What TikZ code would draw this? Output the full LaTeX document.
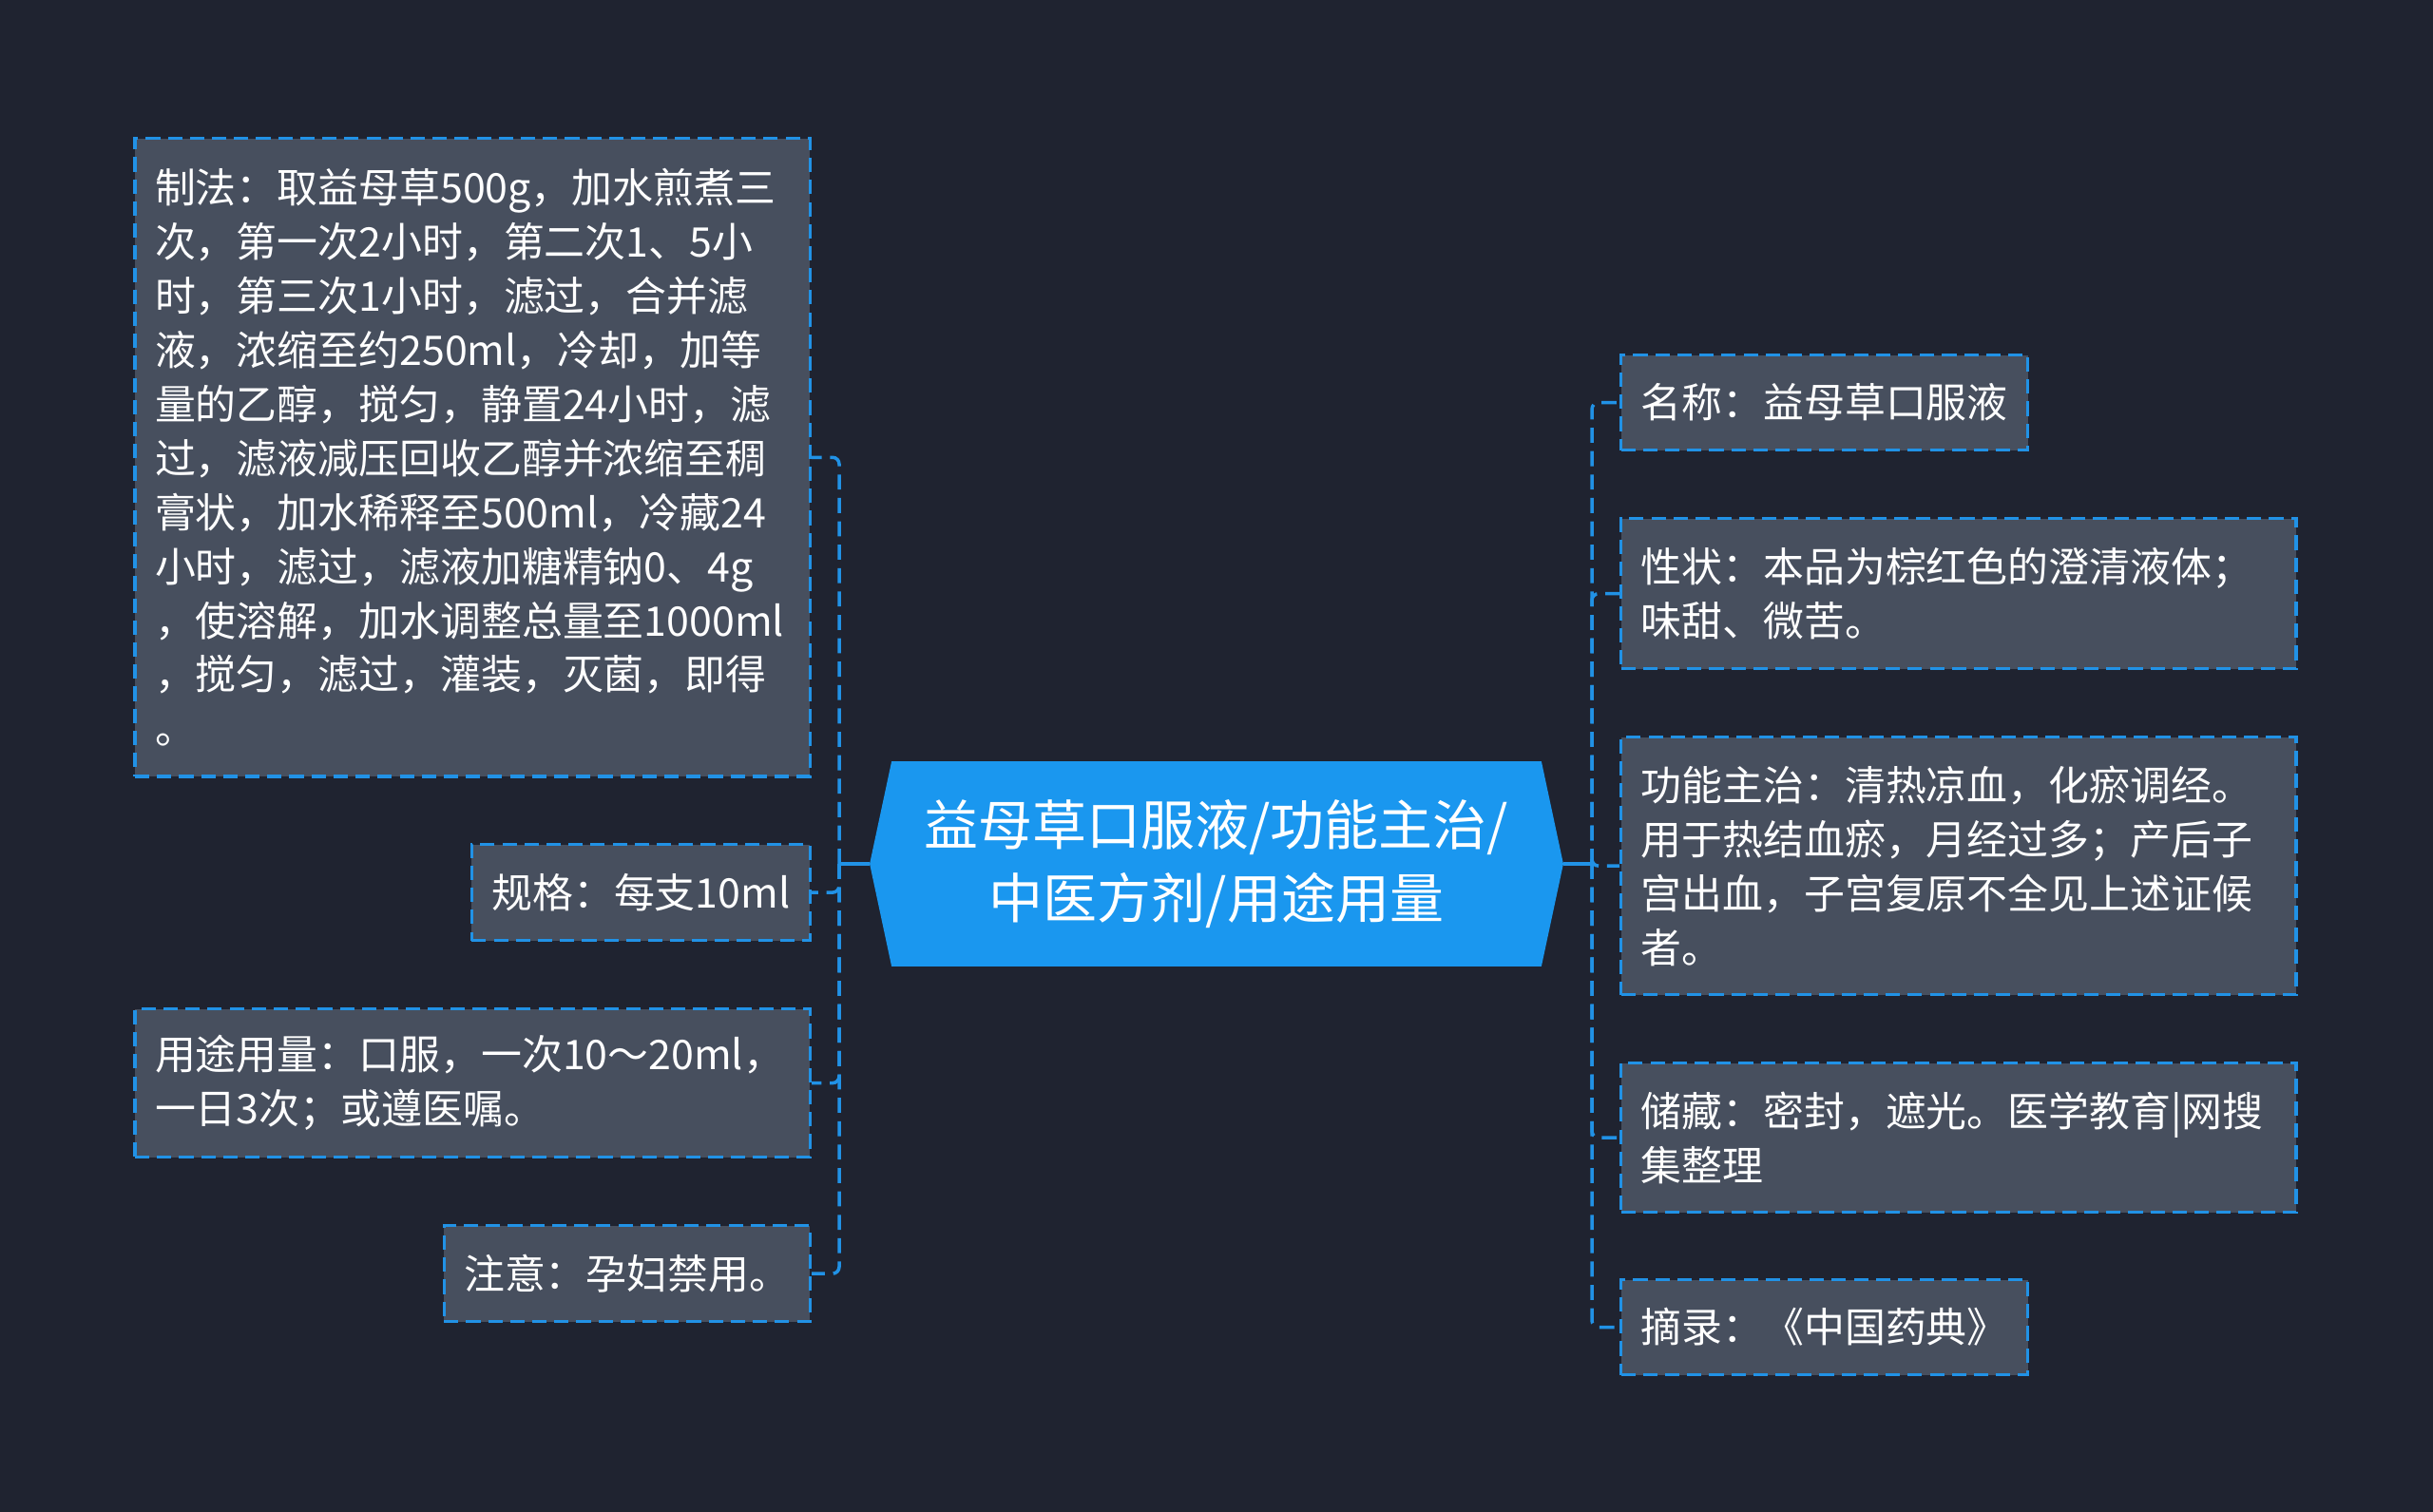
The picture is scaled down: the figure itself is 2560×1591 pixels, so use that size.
\documentclass[tikz,border=0pt]{standalone}
\usepackage{fontspec}
\newfontfamily\cjk{Noto Sans CJK SC}
\usetikzlibrary{backgrounds}
\definecolor{bgdark}{HTML}{1F2330}
\definecolor{boxgrey}{HTML}{474F5E}
\definecolor{linkblue}{HTML}{2192E6}
\definecolor{hubblue}{HTML}{1A97EF}
\tikzset{
  leaf/.style={draw=linkblue, dash pattern=on 4.3pt off 2.3pt, line width=0.9pt,
    fill=boxgrey, text=white, align=left, inner xsep=0.21cm, inner ysep=0.1cm,
    font=\cjk\fontsize{12.2pt}{16.2pt}\selectfont},
  link/.style={draw=linkblue, line width=1pt, dash pattern=on 4.5pt off 2.5pt, rounded corners=2pt},
  stem/.style={draw=linkblue, line width=1pt},
  hub/.style={text=white, align=center, minimum width=6.82cm, minimum height=2.14cm,
    font=\cjk\fontsize{16.2pt}{21.9pt}\selectfont},
}
\begin{document}
\begin{tikzpicture}[x=0.01cm, y=-0.01cm]
\useasboundingbox (0,0) rectangle (2560,1591);

\node[hub] (hub) at (1280,909) {益母草口服液/功能主治/\\中医方剂/用途用量};

\begin{pgfonlayer}{background}
\fill[bgdark] (0,0) rectangle (2560,1591);
\fill[hubblue] (hub.north west) -- (hub.north east) -- ([xshift=0.23cm]hub.east)
  -- (hub.south east) -- (hub.south west) -- ([xshift=-0.23cm]hub.west) -- cycle;
\end{pgfonlayer}

% left side
\node[leaf, anchor=north east, text width=6.68cm, minimum height=6.71cm] (zhifa) at (854,144)
  {制法：取益母草500g，加水煎煮三\\次，第一次2小时，第二次1、5小\\时，第三次1小时，滤过，合并滤\\液，浓缩至约250ml，冷却，加等\\量的乙醇，搅匀，静置24小时，滤\\过，滤液减压回收乙醇并浓缩至稠\\膏状，加水稀释至500ml，冷藏24\\小时，滤过，滤液加糖精钠0、4g\\，使溶解，加水调整总量至1000ml\\，搅匀，滤过，灌装，灭菌，即得\\。};
\node[leaf, anchor=north east, minimum height=1.01cm] (guige) at (854,887) {规格：每支10ml};
\node[leaf, anchor=north east, text width=6.68cm, minimum height=1.56cm] (yongfa) at (854,1060)
  {用途用量：口服，一次10～20ml，\\一日3次；或遵医嘱。};
\node[leaf, anchor=north east, minimum height=1.01cm] (zhuyi) at (854,1288) {注意：孕妇禁用。};

% right side
\node[leaf, anchor=north west, minimum height=1.00cm] (mingcheng) at (1704,372) {名称：益母草口服液};
\node[leaf, anchor=north west, text width=6.68cm, minimum height=1.58cm] (xingzhuang) at (1704,544)
  {性状：本品为棕红色的澄清液体；\\味甜、微苦。};
\node[leaf, anchor=north west, text width=6.68cm, minimum height=2.71cm] (gongneng) at (1704,774)
  {功能主治：清热凉血，化瘀调经。\\用于热结血瘀，月经过多；产后子\\宫出血，子宫复原不全见上述证候\\者。};
\node[leaf, anchor=north west, text width=6.68cm, minimum height=1.57cm] (chucang) at (1704,1117)
  {储藏：密封，遮光。医学教育|网搜\\集整理};
\node[leaf, anchor=north west, minimum height=1.00cm] (zhailu) at (1704,1345) {摘录：《中国药典》};

\coordinate (ltrunk) at (883,909);
\coordinate (rtrunk) at (1675,909);
\draw[stem] ([xshift=-0.23cm]hub.west) -- (ltrunk);
\draw[stem] ([xshift=0.23cm]hub.east) -- (rtrunk);
\foreach \n in {zhifa,guige,yongfa,zhuyi}
  \draw[link] (ltrunk) |- (\n.east);
\foreach \n in {mingcheng,xingzhuang,gongneng,chucang,zhailu}
  \draw[link] (rtrunk) |- (\n.west);
\end{tikzpicture}
\end{document}
